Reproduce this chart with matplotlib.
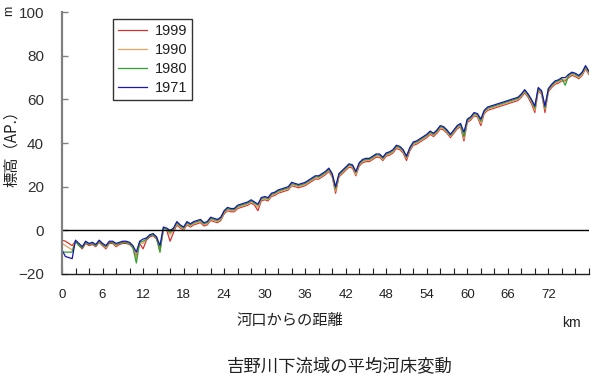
import numpy as np
import matplotlib
matplotlib.use("Agg")
import matplotlib.pyplot as plt
from matplotlib.ticker import MultipleLocator, FuncFormatter

plt.rcParams['font.family'] = ['Liberation Sans', 'Noto Sans CJK JP', 'DejaVu Sans']

# distance from river mouth (km), every 0.5 km
dist = np.arange(0, 78.01, 0.5)

years = ['1999', '1990', '1980', '1971']
colors = ['#d83030', '#e8a060', '#30a030', '#1818b0']

# mean river-bed elevation (m, AP)
bed_1999 = [
    -4.5, -5, -6, -7, -5, -7, -8.5, -6, -7, -6.5,
    -7.5, -5.5, -7, -8.5, -6, -6, -7.5, -6.5, -6, -6,
    -6.5, -8, -12, -6, -8.5, -4.5, -3, -2.5, -4, -9,
    0, 0, -5, -1, 2.5, 1, 0, 2.5, 1.5, 2.5,
    3, 3.5, 2, 2.5, 4.5, 4, 3.5, 4.5, 7.5, 9,
    8.5, 8.5, 10, 10.5, 11, 11.5, 12.5, 11.5, 9, 13.5,
    14, 13.5, 15.5, 16, 17, 17.5, 18, 18.5, 20.5, 20,
    19.5, 20, 20.5, 21.5, 22.5, 23.5, 23.5, 24.5, 25.5, 27,
    24.5, 17, 24.5, 26, 27.5, 29, 28.5, 25, 29.5, 31,
    31.5, 31.5, 32.5, 33.5, 33.5, 32, 34, 34.5, 35.5, 37.5,
    37, 35.5, 32, 36.5, 39, 39.5, 40.5, 41.5, 42.5, 44,
    43, 44.5, 46.5, 46, 44.5, 42.5, 44.5, 46.5, 47.5, 41,
    49.5, 50.5, 52.5, 52, 48, 53.5, 55, 55.5, 56, 56.5,
    57, 57.5, 58, 58.5, 59, 59.5, 61, 63, 61, 58,
    54, 64, 62.5, 54, 63.5, 65.5, 67, 67.5, 68.5, 68.5,
    70, 71, 70.5, 69.5, 71, 74, 71.5,
]
bed_1990 = [
    -6, -7, -8, -9, -5, -6.5, -8, -5.5, -6.5, -6,
    -7, -5, -6.5, -8, -5.5, -5.5, -7, -6, -5.5, -5.5,
    -6, -7.5, -13, -5.5, -6, -4, -2.5, -2, -3.5, -10,
    0.5, 0.5, -2, 0, 3, 1.5, 0.5, 3, 2, 3,
    3.5, 4, 2.5, 3, 5, 4.5, 4, 5, 8, 9.5,
    9, 9, 10.5, 11, 11.5, 12, 13, 12, 10.5, 14,
    14.5, 14, 16, 16.5, 17.5, 18, 18.5, 19, 21, 20.5,
    20, 20.5, 21, 22, 23, 24, 24, 25, 26, 27.5,
    25, 18, 25, 26.5, 28, 29.5, 29, 25.5, 30, 31.5,
    32, 32, 33, 34, 34, 32.5, 34.5, 35, 36, 38,
    37.5, 36, 33, 37, 39.5, 40, 41, 42, 43, 44.5,
    43.5, 45, 47, 46.5, 45, 43, 45, 47, 48, 42,
    50, 51, 53, 52.5, 49, 54, 55.5, 56, 56.5, 57,
    57.5, 58, 58.5, 59, 59.5, 60, 61.5, 63.5, 61.5, 59,
    55, 64.5, 63, 55.5, 64, 66, 67.5, 68, 69, 69,
    70.5, 71.5, 71, 70, 71.5, 74.5, 72,
]
bed_1980 = [
    -10, -10, -10, -10, -5, -7, -8, -5.5, -6.5, -6,
    -7, -5, -6.5, -7.5, -5.5, -5.5, -6.5, -6, -5.5, -5.5,
    -6, -8, -15, -5.5, -5, -4, -2.5, -2, -3.5, -10,
    1, 0.5, -1, 0.5, 3.5, 2, 1, 3.5, 2.5, 3.5,
    4, 4.5, 3, 3.5, 5.5, 5, 4.5, 5.5, 8.5, 10,
    9.5, 9.5, 11, 11.5, 12, 12.5, 13.5, 12.5, 11.5, 14.5,
    15, 14.5, 16.5, 17, 18, 18.5, 19, 19.5, 21.5, 21,
    20.5, 21, 21.5, 22.5, 23.5, 24.5, 24.5, 25.5, 26.5, 28,
    25.5, 19, 25.5, 27, 28.5, 30, 29.5, 26.5, 30.5, 32,
    32.5, 32.5, 33.5, 34.5, 34.5, 33, 35, 35.5, 36.5, 38.5,
    38, 36.5, 33.5, 37.5, 40, 40.5, 41.5, 42.5, 43.5, 45,
    44, 45.5, 47.5, 47, 45.5, 43.5, 45.5, 47.5, 48.5, 43,
    50.5, 51.5, 53.5, 53, 50, 54.5, 56, 56.5, 57, 57.5,
    58, 58.5, 59, 59.5, 60, 60.5, 62, 64, 62, 59.5,
    56, 65, 63.5, 56, 64.5, 66.5, 68, 68.5, 69.5, 66.5,
    71, 72, 71.5, 70.5, 72, 75, 72.5,
]
bed_1971 = [
    -9, -12, -12.5, -13, -4.5, -6, -7.5, -5, -6, -5.5,
    -6.5, -4.5, -6, -7, -5, -5, -6, -5.5, -5, -5,
    -5.5, -7, -10, -5, -4, -3.5, -2, -1.5, -3, -7,
    1.5, 1, 0, 1, 4, 2.5, 1.5, 4, 3, 4,
    4.5, 5, 3.5, 4, 6, 5.5, 5, 6, 9, 10.5,
    10, 10, 11.5, 12, 12.5, 13, 14, 13, 12, 15,
    15.5, 15, 17, 17.5, 18.5, 19, 19.5, 20, 22, 21.5,
    21, 21.5, 22, 23, 24, 25, 25, 26, 27, 28.5,
    26, 20, 26, 27.5, 29, 30.5, 30, 27, 31, 32.5,
    33, 33, 34, 35, 35, 33.5, 35.5, 36, 37, 39,
    38.5, 37, 34, 38, 40.5, 41, 42, 43, 44, 45.5,
    44.5, 46, 48, 47.5, 46, 44, 46, 48, 49, 45,
    51, 52, 54, 53.5, 51, 55, 56.5, 57, 57.5, 58,
    58.5, 59, 59.5, 60, 60.5, 61, 62.5, 64.5, 62.5, 60,
    57, 65.5, 64, 57, 65, 67, 68.5, 69, 70, 70,
    71.5, 72.5, 72, 71, 72.5, 75.5, 73,
]
beds = [bed_1999, bed_1990, bed_1980, bed_1971]

fig = plt.figure(figsize=(5.94, 3.81), dpi=100)
ax = fig.add_axes([0.1044, 0.281, 0.887, 0.687])

for yr, c, b in zip(years, colors, beds):
    ax.plot(dist, b, color=c, lw=0.9, label=yr)

ax.axhline(0, color='black', lw=1.0)

ax.set_xlim(0, 78)
ax.set_ylim(-20, 100)
ax.xaxis.set_major_locator(MultipleLocator(2))
ax.xaxis.set_major_formatter(FuncFormatter(
    lambda v, p: f'{int(round(v))}' if round(v) % 6 == 0 and v < 77 else ''))
ax.yaxis.set_major_locator(MultipleLocator(20))

for s in ['top', 'right']:
    ax.spines[s].set_visible(False)
ax.spines['left'].set_color('#808080')
ax.spines['left'].set_linewidth(1.6)
ax.spines['bottom'].set_color('#202020')
ax.spines['bottom'].set_linewidth(1.0)

ax.tick_params(axis='x', direction='in', length=4, width=0.8, colors='#202020',
               labelsize=9.5, pad=11)
ax.tick_params(axis='y', direction='in', length=4, width=1.0, color='#808080',
               labelcolor='#303030', labelsize=11, pad=13)

leg = ax.legend(loc='upper left', bbox_to_anchor=(0.097, 0.975), borderaxespad=0,
                fontsize=10.5, frameon=True, fancybox=False, handlelength=2.0,
                handletextpad=0.5, labelspacing=0.35, borderpad=0.35)
leg.get_frame().set_edgecolor('black')
leg.get_frame().set_linewidth(1.0)
for t in leg.get_texts():
    t.set_color('#202020')

cjk = ['Noto Sans CJK JP', 'DejaVu Sans']
fig.text(12 / 594, 1 - 145 / 381, '標高（AP.）', rotation=90, ha='center', va='center',
         fontsize=11, family=cjk, color='#202020')
fig.text(9 / 594, 1 - 11 / 381, 'm', rotation=90, ha='center', va='center',
         fontsize=9, color='#202020')
fig.text(290 / 594, 1 - 320 / 381, '河口からの距離', ha='center', va='center',
         fontsize=11, family=cjk, color='#202020')
fig.text(571 / 594, 1 - 323 / 381, 'km', ha='center', va='center',
         fontsize=10, color='#202020')
fig.text(340 / 594, 1 - 366 / 381, '吉野川下流域の平均河床変動', ha='center', va='center',
         fontsize=12.5, family=cjk, color='#202020')

fig.savefig('out.png', dpi=100)
